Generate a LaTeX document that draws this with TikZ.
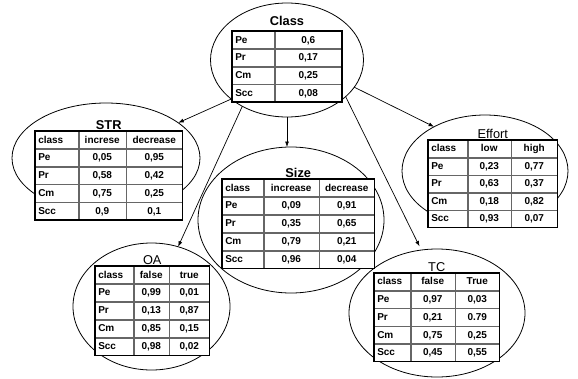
\documentclass[tikz,border=0pt]{standalone}
\usepackage{fontspec}
\setmainfont{Liberation Sans}
\usetikzlibrary{shapes.geometric,matrix,arrows.meta}
\begin{document}
\begin{tikzpicture}[x=1pt,y=-1pt,
  bub/.style={ellipse, draw, line width=0.8pt, inner sep=0pt, outer sep=0pt},
  arr/.style={-{Latex[length=5.5pt,width=4pt]}, line width=0.7pt},
  ttl/.style={font=\fontsize{12.8}{14}\selectfont, anchor=base, inner sep=0pt},
  ttlb/.style={ttl, font=\fontsize{12.8}{14}\selectfont\bfseries},
  cpt/.style={matrix of nodes, anchor=north west, inner sep=0pt, outer sep=0pt,
    fill=white, column sep=0pt, row sep=0pt,
    nodes={draw=black!60, line width=0.5pt, inner sep=0pt, inner xsep=3pt,
      outer sep=0pt, minimum height=#1, text height=7.2pt, text depth=1pt,
      font=\fontsize{10}{12}\selectfont\bfseries, anchor=center}},
  frame/.style={draw, line width=1.5pt},
  c1/.style={column 1/.style={nodes={text width=#1, align=left}}},
  c2/.style={column 2/.style={nodes={minimum width=#1}}},
  c3/.style={column 3/.style={nodes={minimum width=#1}}}
]
\path[use as bounding box, fill=white] (0,0) rectangle (578,378);

% ellipses
\node[bub, minimum width=153pt, minimum height=114pt] (classE) at (287,60) {};
\node[bub, minimum width=188pt, minimum height=110pt] (strE) at (106,158) {};
\node[bub, minimum width=186pt, minimum height=146pt] (sizeE) at (291,220) {};
\node[bub, minimum width=166pt, minimum height=112pt] (effE) at (485,171) {};
\node[bub, minimum width=157pt, minimum height=127pt] (oaE) at (151.5,306.5) {};
\node[bub, minimum width=176pt, minimum height=128pt] (tcE) at (437,313) {};

% arrows
\draw[arr] (classE.215.1) -- (strE.26.9);
\draw[arr] (classE.338.3) -- (effE.139.8);
\draw[arr] (classE.226.9) -- (oaE.66.7);
\draw[arr, shorten >=4pt] (classE.328.3) -- (tcE.104);
\draw[arr] (classE.270) -- (classE.270 |- sizeE.north);

% tables
\matrix (clsT) [cpt=17.3pt, c1=36pt, c2=67pt] at (232,31) {
Pe & 0,6 \\ Pr & 0,17 \\ Cm & 0,25 \\ Scc & 0,08 \\};
\matrix (strT) [cpt=17.3pt, c1=37pt, c2=47pt, c3=56pt] at (35,131) {
class & increse & decrease \\ Pe & 0,05 & 0,95 \\ Pr & 0,58 & 0,42 \\
Cm & 0,75 & 0,25 \\ Scc & 0,9 & 0,1 \\};
\matrix (sizeT) [cpt=17.4pt, c1=35pt, c2=55pt, c3=55pt] at (222,179) {
class & increase & decrease \\ Pe & 0,09 & 0,91 \\ Pr & 0,35 & 0,65 \\
Cm & 0,79 & 0,21 \\ Scc & 0,96 & 0,04 \\};
\matrix (effT) [cpt=17pt, c1=33pt, c2=43pt, c3=46pt] at (428,140) {
class & low & high \\ Pe & 0,23 & 0,77 \\ Pr & 0,63 & 0,37 \\
Cm & 0,18 & 0,82 \\ Scc & 0,93 & 0,07 \\};
\matrix (oaT) [cpt=17.4pt, c1=32pt, c2=35pt, c3=40pt] at (95,266) {
class & false & true \\ Pe & 0,99 & 0,01 \\ Pr & 0,13 & 0,87 \\
Cm & 0,85 & 0,15 \\ Scc & 0,98 & 0,02 \\};
\matrix (tcT) [cpt=17.2pt, c1=30pt, c2=44pt, c3=44pt] at (374,273) {
class & false & True \\ Pe & 0,97 & 0,03 \\ Pr & 0,21 & 0.79 \\
Cm & 0,75 & 0,25 \\ Scc & 0,45 & 0,55 \\};

\foreach \t in {clsT,strT,sizeT,effT,oaT,tcT}
  \draw[frame] (\t.north west) rectangle (\t.south east);

% titles
\node[ttlb] (clsL) at ([yshift=6pt]clsT.north) {Class};
\node[ttlb] (strL) at ([yshift=1.5pt]strT.north) {STR};
\node[ttlb] (sizeL) at ([yshift=1.5pt]sizeT.north) {Size};
\node[ttl] (effL) at ([yshift=2pt]effT.north) {Effort};
\node[ttl] (oaL) at ([yshift=1.5pt]oaT.north) {OA};
\node[ttl] (tcL) at ([yshift=1.5pt]tcT.north) {TC};
\end{tikzpicture}
\end{document}
